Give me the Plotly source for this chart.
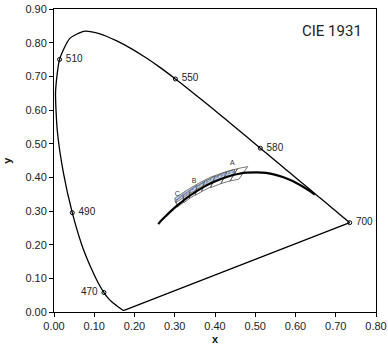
import plotly.graph_objects as go

# Spectral locus (CIE 1931 2°)
wl = [380, 420, 440, 450, 455, 460, 465, 470, 475, 480, 485, 490, 495, 500, 505, 510, 515, 520,
      525, 530, 535, 540, 545, 550, 555, 560, 565, 570, 575, 580, 585, 590, 595, 600, 605, 610,
      620, 630, 640, 650, 660, 680, 700]
sx = [0.1741, 0.1714, 0.1644, 0.1566, 0.1510, 0.1440, 0.1355, 0.1241, 0.1096, 0.0913, 0.0687, 0.0454,
      0.0235, 0.0082, 0.0039, 0.0139, 0.0389, 0.0743, 0.1142, 0.1547, 0.1929, 0.2296, 0.2658, 0.3016,
      0.3373, 0.3731, 0.4087, 0.4441, 0.4788, 0.5125, 0.5448, 0.5752, 0.6029, 0.6270, 0.6482, 0.6658,
      0.6915, 0.7079, 0.7190, 0.7260, 0.7300, 0.7334, 0.7347]
sy = [0.0050, 0.0051, 0.0109, 0.0177, 0.0227, 0.0297, 0.0399, 0.0578, 0.0868, 0.1327, 0.2007, 0.2950,
      0.4127, 0.5384, 0.6548, 0.7502, 0.8120, 0.8338, 0.8262, 0.8059, 0.7816, 0.7543, 0.7243, 0.6923,
      0.6589, 0.6245, 0.5896, 0.5547, 0.5202, 0.4866, 0.4544, 0.4242, 0.3965, 0.3725, 0.3514, 0.3340,
      0.3083, 0.2920, 0.2809, 0.2740, 0.2700, 0.2666, 0.2653]

label_wl = [470, 490, 510, 550, 580, 700]

# Planckian locus
px = [0.2590, 0.2637, 0.2807, 0.2952, 0.3064, 0.3135, 0.3221, 0.3325, 0.3451, 0.3608, 0.3805,
      0.4053, 0.4369, 0.4599, 0.4770, 0.5267, 0.5857, 0.6251, 0.6480]
py = [0.2610, 0.2683, 0.2884, 0.3048, 0.3166, 0.3236, 0.3318, 0.3411, 0.3516, 0.3636, 0.3768,
      0.3907, 0.4041, 0.4106, 0.4137, 0.4133, 0.3931, 0.3674, 0.3490]

# ANSI quadrangles (corners)
quads = [
    [(0.4813, 0.4319), (0.4562, 0.4260), (0.4373, 0.3893), (0.4593, 0.3944)],
    [(0.4562, 0.4260), (0.4299, 0.4165), (0.4147, 0.3814), (0.4373, 0.3893)],
    [(0.4299, 0.4165), (0.3996, 0.4015), (0.3889, 0.3690), (0.4147, 0.3814)],
    [(0.4006, 0.4044), (0.3736, 0.3874), (0.3670, 0.3578), (0.3898, 0.3716)],
    [(0.3736, 0.3874), (0.3548, 0.3736), (0.3512, 0.3465), (0.3670, 0.3578)],
    [(0.3551, 0.3760), (0.3376, 0.3616), (0.3366, 0.3369), (0.3515, 0.3487)],
    [(0.3376, 0.3616), (0.3207, 0.3462), (0.3222, 0.3243), (0.3366, 0.3369)],
    [(0.3205, 0.3481), (0.3028, 0.3304), (0.3068, 0.3113), (0.3221, 0.3261)],
]

# Gray band (upper and lower edges) and blue dashed centre
band_ux = [0.300, 0.330, 0.360, 0.390, 0.420, 0.448]
band_uy = [0.338, 0.362, 0.383, 0.401, 0.414, 0.424]
band_lx = [0.302, 0.332, 0.362, 0.392, 0.422, 0.450]
band_ly = [0.324, 0.348, 0.369, 0.387, 0.400, 0.410]

abc_labels = ["A", "B", "C"]
abc_x = [0.443, 0.348, 0.306]
abc_y = [0.443, 0.389, 0.350]

FONT = "Liberation Sans, Arial"

fig = go.Figure()

# spectral locus closed with purple line
fig.add_trace(go.Scatter(x=sx, y=sy, mode="lines",
                         line=dict(color="black", width=1.3, shape="spline", smoothing=0.6)))
fig.add_trace(go.Scatter(x=[sx[-1], sx[0]], y=[sy[-1], sy[0]], mode="lines",
                         line=dict(color="black", width=1.3)))

# band
fig.add_trace(go.Scatter(x=band_ux + band_lx[::-1] + [band_ux[0]],
                         y=band_uy + band_ly[::-1] + [band_uy[0]],
                         mode="lines", fill="toself", fillcolor="rgba(170,170,170,0.7)",
                         line=dict(color="#666666", width=0.8),
                         fillpattern=dict(shape="/", fgcolor="#777777", bgcolor="rgba(205,205,205,0.8)",
                                          size=3, solidity=0.35)))

# quadrangles
for q in quads:
    qx = [p[0] for p in q] + [q[0][0]]
    qy = [p[1] for p in q] + [q[0][1]]
    fig.add_trace(go.Scatter(x=qx, y=qy, mode="lines", line=dict(color="#555555", width=0.8)))

# Planckian
fig.add_trace(go.Scatter(x=px, y=py, mode="lines", line=dict(color="black", width=2.2, shape="spline")))

# blue dashed centre
cx = [(a + b) / 2 for a, b in zip(band_ux, band_lx)]
cy = [(a + b) / 2 for a, b in zip(band_uy, band_ly)]
fig.add_trace(go.Scatter(x=cx, y=cy, mode="lines", line=dict(color="#5b8ff0", width=1.4, dash="2px,2px")))

# wavelength markers
mx = [sx[wl.index(w)] for w in label_wl]
my = [sy[wl.index(w)] for w in label_wl]
pos = ["middle left" if w == 470 else "middle right" for w in label_wl]
fig.add_trace(go.Scatter(x=mx, y=my, mode="markers+text", text=[f" {w} " for w in label_wl],
                         textposition=pos,
                         textfont=dict(family=FONT, size=10, color="#222"),
                         marker=dict(symbol="circle-open", size=4, color="black", line=dict(width=1))))

# A B C labels
fig.add_trace(go.Scatter(x=abc_x, y=abc_y, mode="text", text=abc_labels,
                         textfont=dict(family=FONT, size=7, color="#333")))

fig.add_annotation(x=0.77, y=0.835, xref="x", yref="y", text="CIE 1931", showarrow=False,
                   xanchor="right", yanchor="middle",
                   font=dict(family="Roboto, Noto Sans", size=15, color="#222"))

# axis titles
fig.add_annotation(x=0.5, y=-0.09, xref="x domain", yref="paper", text="<b>x</b>", showarrow=False,
                   xanchor="center", yanchor="middle", font=dict(family=FONT, size=11, color="#111"))
fig.add_annotation(x=-0.148, y=0.5, xref="paper", yref="y domain", text="<b>y</b>", showarrow=False,
                   textangle=-90, xanchor="center", yanchor="middle", font=dict(family=FONT, size=11, color="#111"))

axis_common = dict(showgrid=False, zeroline=False, showline=True, linecolor="black", linewidth=1,
                   mirror=True, ticks="outside", ticklen=4, tickcolor="black", automargin=False,
                   tickfont=dict(family=FONT, size=11, color="#222"),
                   tickformat=".2f", dtick=0.1)
fig.update_xaxes(range=[0, 0.8], tick0=0, **axis_common)
fig.update_yaxes(range=[0, 0.9], tick0=0, **axis_common)

fig.update_layout(width=388, height=348, margin=dict(l=54, r=12, t=9, b=36),
                  plot_bgcolor="white", paper_bgcolor="white", showlegend=False)

fig.write_html("out.html")
